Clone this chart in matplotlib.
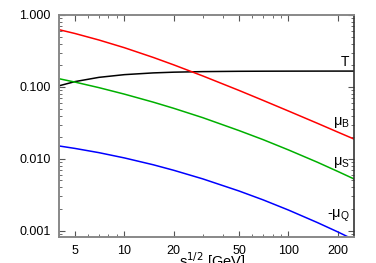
import numpy as np
import matplotlib
matplotlib.use("Agg")
import matplotlib.pyplot as plt
from matplotlib.ticker import FixedLocator, NullFormatter

plt.rcParams['font.family'] = ['Liberation Sans', 'DejaVu Sans']

# sqrt(s) in GeV and chemical freeze-out parameters (GeV)
sqrt_s = [4, 5, 7, 10, 15, 20, 30, 50, 70, 100, 150, 200, 250]
T = [0.1036, 0.1185, 0.1358, 0.1481, 0.1566, 0.1603, 0.1632, 0.1649, 0.1654,
     0.1657, 0.1659, 0.1660, 0.1660]
mu_B = [0.625, 0.553, 0.449, 0.351, 0.257, 0.2025, 0.1423, 0.0893, 0.0650,
        0.0462, 0.0312, 0.0235, 0.0189]
mu_S = [0.130, 0.1167, 0.0977, 0.0794, 0.0614, 0.0504, 0.0374, 0.0247, 0.0185,
        0.0133, 0.00897, 0.00667, 0.00527]
minus_mu_Q = [0.0151, 0.01396, 0.01219, 0.0103, 0.00827, 0.00693, 0.00527,
              0.00357, 0.00269, 0.00194, 0.0013, 0.000962, 0.000752]

x_ticks = [5, 10, 20, 50, 100, 200]
y_ticks = [0.001, 0.01, 0.1, 1.0]
y_labels = ["0.001", "0.010", "0.100", "1.000"]

fig = plt.figure(figsize=(3.76, 2.63), dpi=100)
ax = fig.add_axes([0.157, 0.099, 0.784, 0.844])

ax.plot(sqrt_s, T, color="black", lw=1.1)
ax.plot(sqrt_s, mu_B, color="#ff0000", lw=1.1)
ax.plot(sqrt_s, mu_S, color="#00b000", lw=1.1)
ax.plot(sqrt_s, minus_mu_Q, color="#0000ff", lw=1.1)

ax.set_xscale("log")
ax.set_yscale("log")
ax.set_xlim(4, 250)
ax.set_ylim(0.00082, 1.0)

ax.xaxis.set_major_locator(FixedLocator(x_ticks))
ax.set_xticklabels([str(v) for v in x_ticks])
minor_x = [4, 6, 7, 8, 9, 30, 40, 60, 70, 80, 90]
ax.xaxis.set_minor_locator(FixedLocator(minor_x))
ax.xaxis.set_minor_formatter(NullFormatter())
ax.yaxis.set_major_locator(FixedLocator(y_ticks))
ax.set_yticklabels(y_labels)
ax.yaxis.set_minor_formatter(NullFormatter())

ax.tick_params(which="both", direction="in", top=True, right=True,
               labelsize=9, color="#555555")
ax.tick_params(which="major", length=4, width=0.8, pad=6)
ax.tick_params(which="minor", length=2, width=0.6)
for side in ["left", "bottom", "top"]:
    ax.spines[side].set_color("#888888")
    ax.spines[side].set_linewidth(1.4)
ax.spines["right"].set_color("#333333")
ax.spines["right"].set_linewidth(1.2)

# x label sits low and is partly clipped in the original
fig.text(212 / 376, 1 - 250 / 263, r"s$^{1/2}$ [GeV]", ha="center", va="top",
         fontsize=10.5)

ax.text(235, 0.222, "T", ha="right", va="center", fontsize=10)
ax.text(237, 0.0316, r"$\mathregular{\mu_B}$", ha="right", va="center", fontsize=10.5)
ax.text(237, 0.0088, r"$\mathregular{\mu_S}$", ha="right", va="center", fontsize=10.5)
ax.text(237, 0.00163, r"-$\mathregular{\mu_Q}$", ha="right", va="center", fontsize=10.5)

fig.savefig("out.png", dpi=100)
